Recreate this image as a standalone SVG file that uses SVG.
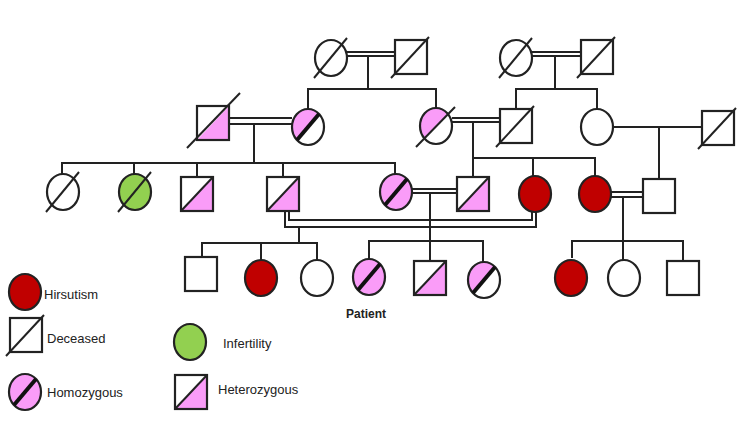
<svg xmlns="http://www.w3.org/2000/svg" xmlns:xlink="http://www.w3.org/1999/xlink" width="750" height="422" viewBox="0 0 750 422">
<style>
.ln{stroke:#222;stroke-width:2;fill:none}
.ol{stroke:#222;stroke-width:2.2}
.wh{fill:#fff}
.pk{fill:#fa9cf8}
.rd{fill:#c00000}
.gr{fill:#92d050}
.sl{stroke:#222;stroke-width:2;fill:none}
.th{stroke:#111;stroke-width:4;fill:none}
.lbl{font-family:"Liberation Sans",Arial,sans-serif;font-size:13px;fill:#222}
.pt{font-family:"Liberation Sans",Arial,sans-serif;font-size:12px;font-weight:bold;fill:#222}
</style>
<defs>
<ellipse id="e" cx="0" cy="0" rx="16" ry="18"/>
<path id="hp" d="M-12,12 A16,18 0 0 1 12,-12 Z"/>
<rect id="r" x="-16" y="-17" width="32" height="34"/>
<path id="tri" d="M-16,17 L16,17 L16,-17 Z"/>
<g id="c-plain"><use href="#e" class="wh ol"/></g>
<g id="c-red"><use href="#e" class="rd ol"/></g>
<g id="c-green"><use href="#e" class="gr ol"/></g>
<g id="c-dec"><use href="#e" class="wh ol"/><line class="sl" x1="-17" y1="20" x2="16" y2="-20"/></g>
<g id="c-green-dec"><use href="#e" class="gr ol"/><line class="sl" x1="-17" y1="20" x2="16" y2="-20"/></g>
<g id="c-hom"><use href="#e" class="pk ol"/><line class="th" x1="-11" y1="13" x2="11" y2="-13"/></g>
<g id="c-half-hom"><use href="#e" class="wh"/><use href="#hp" class="pk"/><use href="#e" class="ol" fill="none"/><line class="th" x1="-11" y1="13" x2="11" y2="-13"/></g>
<g id="c-half-dec"><use href="#e" class="wh"/><use href="#hp" class="pk"/><use href="#e" class="ol" fill="none"/><line class="sl" x1="-20" y1="21" x2="19" y2="-19"/></g>
<g id="s-plain"><use href="#r" class="wh ol"/></g>
<g id="s-dec"><use href="#r" class="wh ol"/><line class="sl" x1="-20" y1="21" x2="18" y2="-20"/></g>
<g id="s-het"><use href="#r" class="wh"/><use href="#tri" class="pk"/><use href="#r" class="ol" fill="none"/><line class="sl" x1="-16" y1="17" x2="16" y2="-17"/></g>
<g id="s-het-dec"><use href="#r" class="wh"/><use href="#tri" class="pk"/><use href="#r" class="ol" fill="none"/><line class="sl" x1="-26" y1="25" x2="27" y2="-30"/></g>
</defs>

<g id="connectors" class="ln">
<!-- gen1 left couple -->
<line x1="347" y1="52" x2="395" y2="52"/>
<line x1="347" y1="56" x2="395" y2="56"/>
<line x1="368" y1="56" x2="368" y2="89"/>
<polyline points="308,109 308,89 436,89 436,108"/>
<!-- gen1 right couple -->
<line x1="532" y1="52" x2="582" y2="52"/>
<line x1="532" y1="56" x2="582" y2="56"/>
<line x1="555" y1="56" x2="555" y2="89"/>
<polyline points="516,109 516,89 597,89 597,109"/>
<!-- gen2 left couple -->
<line x1="230" y1="118" x2="292" y2="118"/>
<line x1="230" y1="124" x2="292" y2="124"/>
<line x1="254" y1="124" x2="254" y2="163"/>
<polyline points="62,174 62,163 395,163 395,174"/>
<line x1="134" y1="163" x2="134" y2="174"/>
<line x1="197" y1="163" x2="197" y2="176"/>
<line x1="283" y1="163" x2="283" y2="177"/>
<!-- gen2 middle couple -->
<line x1="452" y1="118" x2="500" y2="118"/>
<line x1="452" y1="122" x2="500" y2="122"/>
<line x1="473" y1="122" x2="473" y2="176"/>
<polyline points="473,158 595,158 595,176"/>
<line x1="533" y1="158" x2="533" y2="176"/>
<!-- gen2 right couple -->
<line x1="613" y1="127" x2="702" y2="127"/>
<line x1="659" y1="127" x2="659" y2="179"/>
<!-- gen3 consanguineous U -->
<polyline points="289,211 289,220 532,220 532,211"/>
<polyline points="285,211 285,227 536,227 536,211"/>
<line x1="299" y1="227" x2="299" y2="243"/>
<polyline points="202,257 202,243 317,243 317,260"/>
<line x1="261" y1="243" x2="261" y2="260"/>
<!-- gen3 pink couple -->
<line x1="412" y1="189" x2="457" y2="189"/>
<line x1="412" y1="193" x2="457" y2="193"/>
<line x1="430" y1="193" x2="430" y2="260"/>
<polyline points="369,259 369,241 483,241 483,262"/>
<!-- gen3 right couple -->
<line x1="611" y1="192" x2="643" y2="192"/>
<line x1="611" y1="197" x2="643" y2="197"/>
<line x1="623" y1="197" x2="623" y2="260"/>
<polyline points="572,258 572,241 683,241 683,260"/>
</g>

<!-- generation 1 -->
<g id="g1-1"><use href="#c-dec" x="331" y="58"/></g>
<g id="g1-2"><use href="#s-dec" x="411" y="57"/></g>
<g id="g1-3"><use href="#c-dec" x="516" y="58"/></g>
<g id="g1-4"><use href="#s-dec" x="597" y="57"/></g>

<!-- generation 2 -->
<g id="g2-1"><use href="#s-het-dec" x="213" y="123"/></g>
<g id="g2-2"><use href="#c-half-hom" x="308" y="127"/></g>
<g id="g2-3"><use href="#c-half-dec" x="436" y="126"/></g>
<g id="g2-4"><use href="#s-dec" x="516" y="126"/></g>
<g id="g2-5"><use href="#c-plain" x="597" y="127"/></g>
<g id="g2-6"><use href="#s-dec" x="718" y="128"/></g>

<!-- generation 3 -->
<g id="g3-1"><use href="#c-dec" x="63" y="192"/></g>
<g id="g3-2"><use href="#c-green-dec" x="135" y="192"/></g>
<g id="g3-3"><use href="#s-het" x="197" y="194"/></g>
<g id="g3-4"><use href="#s-het" x="283" y="194"/></g>
<g id="g3-5"><use href="#c-hom" x="396" y="192"/></g>
<g id="g3-6"><use href="#s-het" x="473" y="194"/></g>
<g id="g3-7"><use href="#c-red" x="535" y="194"/></g>
<g id="g3-8"><use href="#c-red" x="595" y="194"/></g>
<g id="g3-9"><use href="#s-plain" x="659" y="196"/></g>

<!-- generation 4 -->
<g id="g4-1"><use href="#s-plain" x="201" y="274"/></g>
<g id="g4-2"><use href="#c-red" x="261" y="278"/></g>
<g id="g4-3"><use href="#c-plain" x="317" y="278"/></g>
<g id="g4-4"><use href="#c-hom" x="369" y="277"/></g>
<g id="g4-5"><use href="#s-het" x="430" y="278"/></g>
<g id="g4-6"><use href="#c-half-hom" x="484" y="280"/></g>
<g id="g4-7"><use href="#c-red" x="571" y="278"/></g>
<g id="g4-8"><use href="#c-plain" x="624" y="278"/></g>
<g id="g4-9"><use href="#s-plain" x="683" y="278"/></g>
<text class="pt" x="366" y="318" text-anchor="middle">Patient</text>

<!-- legend -->
<g id="legend-hirsutism"><use href="#c-red" x="25" y="292"/><text class="lbl" x="44" y="299">Hirsutism</text></g>
<g id="legend-deceased"><use href="#s-dec" x="26" y="335"/><text class="lbl" x="47" y="343">Deceased</text></g>
<g id="legend-homozygous"><use href="#c-hom" x="25" y="392"/><text class="lbl" x="47" y="397">Homozygous</text></g>
<g id="legend-infertility"><use href="#c-green" x="190" y="342"/><text class="lbl" x="223" y="348">Infertility</text></g>
<g id="legend-heterozygous"><use href="#s-het" x="191" y="392"/><text class="lbl" x="218" y="394">Heterozygous</text></g>
</svg>
